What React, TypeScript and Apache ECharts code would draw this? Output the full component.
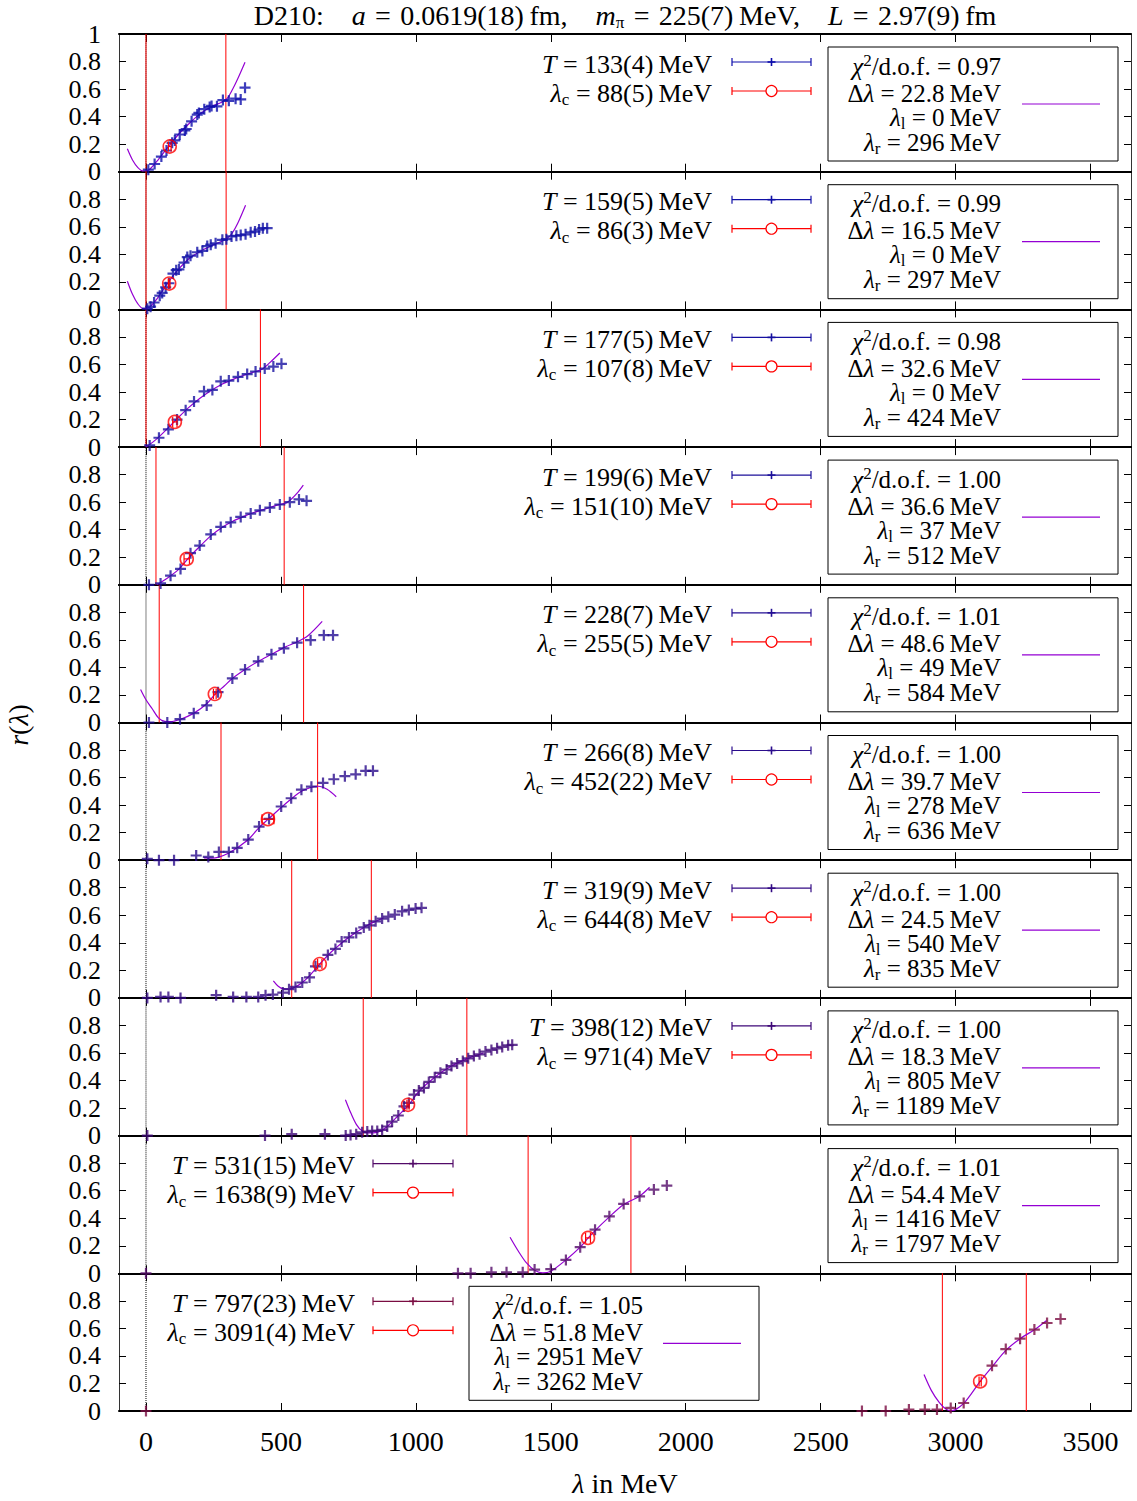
import React, { useEffect, useRef } from 'react';
import * as echarts from 'echarts';

// ---------- data ----------
const X_TICKS = [0, 500, 1000, 1500, 2000, 2500, 3000, 3500];
const Y_TICKS = [0, 0.2, 0.4, 0.6, 0.8, 1];

const TEMPS = ['133(4)', '159(5)', '177(5)', '199(6)', '228(7)', '266(8)', '319(9)', '398(12)', '531(15)', '797(23)'];
const LAMBDA_C_TEXT = ['88(5)', '86(3)', '107(8)', '151(10)', '255(5)', '452(22)', '644(8)', '971(4)', '1638(9)', '3091(4)'];
const LAMBDA_C = [88, 86, 107, 151, 255, 452, 644, 971, 1638, 3091];
const LAMBDA_C_ERR = [5, 3, 8, 10, 5, 22, 8, 4, 9, 4];
const LAMBDA_C_R = [0.183, 0.188, 0.183, 0.188, 0.207, 0.298, 0.246, 0.224, 0.257, 0.215];
const CHI2 = ['0.97', '0.99', '0.98', '1.00', '1.01', '1.00', '1.00', '1.00', '1.01', '1.05'];
const DELTA = ['22.8', '16.5', '32.6', '36.6', '48.6', '39.7', '24.5', '18.3', '54.4', '51.8'];
const LAMBDA_L = [0, 0, 0, 37, 49, 278, 540, 805, 1416, 2951];
const LAMBDA_R = [296, 297, 424, 512, 584, 636, 835, 1189, 1797, 3262];

const DATA_1 = [[8.6, 0.015], [32, 0.056], [57, 0.11], [76, 0.154], [97, 0.21], [107, 0.227], [125, 0.27], [144, 0.3], [149, 0.31], [169, 0.366], [190, 0.415], [196, 0.427], [216, 0.454], [236, 0.47], [243, 0.478], [263, 0.475], [285, 0.52], [307, 0.515], [332, 0.53], [351, 0.525], [367, 0.61]];
const DATA_2 = [[5, 0.005], [17, 0.02], [30, 0.05], [51, 0.1], [60, 0.12], [73, 0.16], [85, 0.19], [100, 0.26], [112, 0.285], [122, 0.29], [141, 0.34], [153, 0.38], [165, 0.39], [190, 0.415], [209, 0.425], [227, 0.46], [240, 0.47], [258, 0.48], [283, 0.505], [298, 0.51], [317, 0.53], [335, 0.535], [351, 0.54], [369, 0.545], [388, 0.56], [404, 0.565], [419, 0.58], [433, 0.59], [449, 0.59]];
const DATA_3 = [[13.6, 0.012], [48, 0.068], [83, 0.129], [115, 0.2], [147, 0.268], [178, 0.332], [215, 0.405], [246, 0.415], [277, 0.478], [307, 0.483], [341, 0.51], [375, 0.53], [406, 0.549], [440, 0.57], [472, 0.585], [502, 0.605]];
const DATA_4 = [[11, 0], [54, 0.01], [91, 0.066], [128, 0.115], [165, 0.23], [199, 0.285], [240, 0.366], [277, 0.42], [314, 0.454], [351, 0.493], [388, 0.517], [422, 0.541], [459, 0.561], [496, 0.583], [533, 0.6], [567, 0.62], [595, 0.61]];
const DATA_5 = [[11, 0], [79, 0], [126, 0.024], [177, 0.068], [225, 0.124], [267, 0.22], [320, 0.32], [367, 0.385], [416, 0.444], [465, 0.495], [511, 0.539], [560, 0.58], [610, 0.598], [659, 0.634], [693, 0.634]];
const DATA_6 = [[5, 0.01], [48, 0], [104, 0], [186, 0.034], [231, 0.024], [270, 0.06], [307, 0.06], [338, 0.09], [379, 0.15], [419, 0.244], [456, 0.3], [501, 0.39], [538, 0.45], [576, 0.512], [613, 0.534], [656, 0.561], [696, 0.588], [737, 0.61], [777, 0.624], [814, 0.649], [841, 0.649]];
const DATA_7 = [[5, 0], [54, 0.007], [83, 0.007], [128, 0], [260, 0.02], [323, 0.007], [372, 0.007], [416, 0.007], [443, 0.02], [470, 0.024], [507, 0.039], [530, 0.063], [554, 0.08], [579, 0.112], [606, 0.149], [628, 0.229], [674, 0.312], [702, 0.356], [725, 0.41], [752, 0.439], [779, 0.471], [807, 0.512], [828, 0.527], [851, 0.556], [875, 0.576], [898, 0.59], [922, 0.605], [949, 0.629], [974, 0.639], [999, 0.649], [1021, 0.654]];
const DATA_8 = [[5, 0], [441, 0], [540, 0.01], [663, 0.01], [740, 0], [758, 0.005], [779, 0.01], [801, 0.024], [820, 0.029], [838, 0.034], [857, 0.034], [875, 0.041], [894, 0.066], [912, 0.102], [935, 0.146], [956, 0.212], [974, 0.237], [993, 0.298], [1011, 0.327], [1030, 0.346], [1048, 0.39], [1070, 0.424], [1091, 0.456], [1114, 0.48], [1132, 0.505], [1153, 0.524], [1174, 0.541], [1194, 0.561], [1215, 0.578], [1236, 0.59], [1258, 0.61], [1280, 0.622], [1301, 0.634], [1320, 0.644], [1342, 0.656], [1357, 0.659]];
const DATA_9 = [[0, 0], [1156, 0], [1203, 0], [1280, 0.007], [1336, 0.007], [1396, 0.007], [1440, 0.027], [1500, 0.031], [1556, 0.097], [1609, 0.19], [1664, 0.317], [1717, 0.414], [1770, 0.504], [1829, 0.559], [1882, 0.608], [1930, 0.637]];
const DATA_10 = [[0, 0], [2653, 0], [2741, 0], [2827, 0.01], [2886, 0.01], [2931, 0.01], [2982, 0.022], [3030, 0.058], [3135, 0.329], [3186, 0.45], [3239, 0.525], [3292, 0.591], [3339, 0.639], [3389, 0.668]];

const FIT_1 = [[-69, 0.166], [-50, 0.085], [-30, 0.03], [-10, 0.005], [10, 0.012], [40, 0.075], [80, 0.175], [120, 0.27], [160, 0.35], [200, 0.42], [240, 0.47], [280, 0.505], [300, 0.53], [320, 0.595], [340, 0.675], [367, 0.795]];
const FIT_2 = [[-69, 0.205], [-50, 0.11], [-30, 0.04], [-10, 0.005], [10, 0.012], [40, 0.075], [80, 0.19], [120, 0.29], [160, 0.37], [200, 0.42], [240, 0.46], [280, 0.495], [300, 0.515], [320, 0.555], [340, 0.625], [369, 0.756]];
const FIT_3 = [[0, 0.0], [40, 0.06], [80, 0.135], [120, 0.215], [160, 0.29], [200, 0.355], [240, 0.41], [280, 0.455], [320, 0.49], [360, 0.52], [400, 0.545], [430, 0.565], [460, 0.615], [496, 0.683]];
const FIT_4 = [[40, 0.0], [80, 0.05], [120, 0.11], [160, 0.2], [200, 0.28], [240, 0.355], [280, 0.415], [320, 0.46], [360, 0.495], [400, 0.525], [440, 0.55], [480, 0.575], [520, 0.595], [540, 0.625], [560, 0.665], [583, 0.724]];
const FIT_5 = [[-20, 0.24], [0, 0.165], [23, 0.1], [48, 0.03], [70, 0.008], [90, 0.006], [128, 0.024], [178, 0.068], [227, 0.14], [258, 0.21], [290, 0.265], [320, 0.32], [367, 0.385], [416, 0.444], [465, 0.495], [517, 0.549], [560, 0.585], [600, 0.63], [653, 0.734]];
const FIT_6 = [[215, 0.017], [245, 0.014], [270, 0.022], [307, 0.052], [338, 0.09], [379, 0.15], [419, 0.237], [453, 0.298], [501, 0.383], [538, 0.444], [576, 0.5], [613, 0.53], [638, 0.537], [671, 0.515], [705, 0.461]];
const FIT_7 = [[472, 0.124], [490, 0.085], [510, 0.065], [530, 0.063], [554, 0.08], [579, 0.112], [606, 0.16], [644, 0.246], [674, 0.31], [702, 0.36], [752, 0.44], [807, 0.512], [851, 0.556], [880, 0.58]];
const FIT_8 = [[739, 0.261], [760, 0.16], [780, 0.08], [800, 0.035], [825, 0.02], [850, 0.022], [875, 0.04], [894, 0.066], [935, 0.146], [974, 0.224], [1011, 0.32], [1070, 0.424], [1132, 0.505], [1194, 0.561], [1250, 0.6]];
const FIT_9 = [[1349, 0.262], [1380, 0.16], [1410, 0.075], [1440, 0.022], [1470, 0.003], [1500, 0.015], [1556, 0.097], [1609, 0.19], [1638, 0.255], [1664, 0.31], [1717, 0.41], [1770, 0.5], [1829, 0.56], [1866, 0.625]];
const FIT_10 = [[2883, 0.265], [2910, 0.15], [2940, 0.06], [2965, 0.012], [2982, 0.002], [3000, 0.01], [3030, 0.055], [3060, 0.13], [3091, 0.215], [3135, 0.32], [3186, 0.44], [3239, 0.525], [3292, 0.59], [3336, 0.656]];

const DATA = [DATA_1, DATA_2, DATA_3, DATA_4, DATA_5, DATA_6, DATA_7, DATA_8, DATA_9, DATA_10];
const FITS = [FIT_1, FIT_2, FIT_3, FIT_4, FIT_5, FIT_6, FIT_7, FIT_8, FIT_9, FIT_10];

// ---------- style ----------
const POINT_COLORS = ['#0c0cab', '#1010a6', '#1610a0', '#1c109a', '#230e94', '#2a0c8c', '#330a84', '#3e0878', '#520a68', '#7a0c42'];
const FIT_COLOR = '#9400d3';
const RED = '#ff0000';
const FONT = "'Liberation Serif', 'Times New Roman', serif";
const W = 1137;
const H = 1501;
const N = 10;
const PANEL_TOP = 34;
const PANEL_H = 137.7;
const PLOT_LEFT = 119;
const PLOT_RIGHT = 1131;
const PLUS = 'path://M4,0L6,0L6,4L10,4L10,6L6,6L6,10L4,10L4,6L0,6L0,4L4,4Z';
const FS = 26;
const FS_BOX = 25;
const EQS = '\u2004=\u2004';

function rich(fs: number) {
  return {
    i: { fontStyle: 'italic', fontSize: fs, fontFamily: FONT, lineHeight: fs + 4, fill: '#000' },
    sub: { fontSize: 17, fontFamily: FONT, lineHeight: 17, verticalAlign: 'bottom', fill: '#000' },
    sup: { fontSize: 17, fontFamily: FONT, lineHeight: 17, verticalAlign: 'top', fill: '#000' },
  };
}

function txt(x: number, y: number, text: string, align: string, fs = FS) {
  return {
    type: 'text', x, y, z: 100,
    style: { text, fontFamily: FONT, fontSize: fs, lineHeight: fs + 4, fill: '#000', align, verticalAlign: 'middle', rich: rich(fs) },
  };
}
function ln(x1: number, y1: number, x2: number, y2: number, color: string, w = 1.2) {
  return { type: 'line', z: 100, shape: { x1, y1, x2, y2 }, style: { stroke: color, lineWidth: w } };
}

function buildGraphics() {
  const g: any[] = [];
  g.push(txt(625, 15, `D210:\u2003{i|a}${EQS}0.0619(18)\u2009fm,\u2003{i|m}{sub|π}${EQS}225(7)\u2009MeV,\u2003{i|L}${EQS}2.97(9)\u2009fm`, 'center', 28));
  g.push(txt(625, 1483, '{i|λ} in MeV', 'center', 28));
  g.push({ ...txt(18, 725, '{i|r}({i|λ})', 'center', 28), rotation: Math.PI / 2 });
  for (let i = 0; i < N; i++) {
    const top = PANEL_TOP + i * PANEL_H;
    const left = i >= 8;
    const tx = left ? 355 : 712;
    const s1 = left ? 373 : 732;
    const s2 = left ? 453 : 811;
    const sc = (s1 + s2) / 2;
    const c = POINT_COLORS[i];
    // T legend
    g.push(txt(tx, top + 30, `{i|T} = ${TEMPS[i]}\u2009MeV`, 'right'));
    const yT = top + 28;
    g.push(ln(s1, yT, s2, yT, c));
    g.push(ln(s1, yT - 4, s1, yT + 4, c));
    g.push(ln(s2, yT - 4, s2, yT + 4, c));
    g.push(ln(sc - 4, yT, sc + 4, yT, c, 1.6));
    g.push(ln(sc, yT - 4, sc, yT + 4, c, 1.6));
    // lambda_c legend
    g.push(txt(tx, top + 59, `{i|λ}{sub|c} = ${LAMBDA_C_TEXT[i]}\u2009MeV`, 'right'));
    const yC = top + 57;
    g.push(ln(s1, yC, s2, yC, RED));
    g.push(ln(s1, yC - 4, s1, yC + 4, RED));
    g.push(ln(s2, yC - 4, s2, yC + 4, RED));
    g.push({ type: 'circle', z: 101, shape: { cx: sc, cy: yC, r: 5.5 }, style: { stroke: RED, fill: '#fff', lineWidth: 1.2 } });
    // fit box
    const boxL = i === 9 ? 469 : 828;
    const boxR = i === 9 ? 759 : 1118;
    const bt = i === 9 ? 643 : 1001;
    const l1 = i === 9 ? 663 : 1022;
    const l2 = i === 9 ? 741 : 1100;
    g.push({ type: 'rect', z: 99, shape: { x: boxL, y: top + 13, width: boxR - boxL, height: 114 }, style: { stroke: '#000', fill: '#fff', lineWidth: 1 } });
    g.push(txt(bt, top + 32, `{i|χ}{sup|2}/d.o.f. = ${CHI2[i]}`, 'right', FS_BOX));
    g.push(txt(bt, top + 59, `Δ{i|λ} = ${DELTA[i]}\u2009MeV`, 'right', FS_BOX));
    g.push(txt(bt, top + 83, `{i|λ}{sub|l} = ${LAMBDA_L[i]}\u2009MeV`, 'right', FS_BOX));
    g.push(txt(bt, top + 108, `{i|λ}{sub|r} = ${LAMBDA_R[i]}\u2009MeV`, 'right', FS_BOX));
    g.push(ln(l1, top + 70, l2, top + 70, FIT_COLOR, 1.2));
  }
  return g;
}

function vline(xi: number, yi: number, x: number, color: string, type: string, z: number) {
  return {
    type: 'line', xAxisIndex: xi, yAxisIndex: yi, data: [[x, 0], [x, 1]],
    showSymbol: false, symbol: 'none', z, silent: true,
    lineStyle: { color, width: 1, type },
  };
}

function buildOption() {
  const grid: any[] = [];
  const xAxis: any[] = [];
  const yAxis: any[] = [];
  const series: any[] = [];
  for (let i = 0; i < N; i++) {
    const top = PANEL_TOP + i * PANEL_H;
    grid.push({ left: PLOT_LEFT, top, width: PLOT_RIGHT - PLOT_LEFT, height: PANEL_H });
    const xBase = {
      type: 'value', gridIndex: i, min: -100, max: 3650,
      splitLine: { show: false },
      axisLine: { show: true, onZero: false, lineStyle: { color: '#000', width: 2 } },
      axisTick: { show: true, inside: true, length: 8, customValues: X_TICKS, lineStyle: { color: '#000', width: 1 } },
    };
    xAxis.push({
      ...xBase, position: 'bottom',
      axisLabel: {
        show: i === N - 1, customValues: X_TICKS, margin: 16, color: '#000', fontSize: 28, fontFamily: FONT,
        hideOverlap: false,
        formatter: (v: number) => String(Math.round(v)),
      },
    });
    xAxis.push({ ...xBase, position: 'top', axisLabel: { show: false } });
    const yBase = {
      type: 'value', gridIndex: i, min: 0, max: 1, interval: 0.2,
      splitLine: { show: false },
      axisLine: { show: true, onZero: false, lineStyle: { color: '#333', width: 1 } },
      axisTick: { show: true, inside: true, length: 7, lineStyle: { color: '#000', width: 1 } },
    };
    yAxis.push({
      ...yBase, position: 'left',
      axisLabel: {
        show: true, margin: 18, color: '#000', fontSize: 26, fontFamily: FONT,
        hideOverlap: false, showMinLabel: true, showMaxLabel: true,
        customValues: i === 0 ? Y_TICKS : Y_TICKS.slice(0, 5),
        formatter: (v: number) => String(Math.round(v * 10) / 10),
      },
    });
    yAxis.push({ ...yBase, position: 'right', axisLabel: { show: false } });

    const xi = 2 * i;
    const yi = 2 * i;
    series.push(vline(xi, yi, 0, '#000', 'dotted', 1));
    series.push(vline(xi, yi, LAMBDA_L[i], RED, 'solid', 2));
    series.push(vline(xi, yi, LAMBDA_R[i], RED, 'solid', 2));
    series.push({
      type: 'line', xAxisIndex: xi, yAxisIndex: yi, data: FITS[i], smooth: 0.3,
      showSymbol: false, symbol: 'none', z: 3,
      lineStyle: { color: FIT_COLOR, width: 1.2 },
    });
    series.push({
      type: 'scatter', xAxisIndex: xi, yAxisIndex: yi, data: DATA[i], symbol: PLUS, symbolSize: 11, z: 4,
      itemStyle: { color: POINT_COLORS[i] },
    });
    series.push({
      type: 'custom', xAxisIndex: xi, yAxisIndex: yi, z: 5,
      data: [[LAMBDA_C[i], LAMBDA_C_R[i], LAMBDA_C_ERR[i]]],
      encode: { x: 0, y: 1 },
      renderItem: (params: any, api: any) => {
        const x = api.value(0);
        const y = api.value(1);
        const e = api.value(2);
        const l = api.coord([x - e, y]);
        const r = api.coord([x + e, y]);
        const st = { stroke: RED, lineWidth: 1.2 };
        return {
          type: 'group',
          children: [
            { type: 'line', shape: { x1: l[0], y1: l[1], x2: r[0], y2: r[1] }, style: st },
            { type: 'line', shape: { x1: l[0], y1: l[1] - 5, x2: l[0], y2: l[1] + 5 }, style: st },
            { type: 'line', shape: { x1: r[0], y1: r[1] - 5, x2: r[0], y2: r[1] + 5 }, style: st },
          ],
        };
      },
    });
    series.push({
      type: 'scatter', xAxisIndex: xi, yAxisIndex: yi, data: [[LAMBDA_C[i], LAMBDA_C_R[i]]],
      symbol: 'circle', symbolSize: 13, z: 6,
      itemStyle: { color: 'rgba(0,0,0,0)', borderColor: RED, borderWidth: 1.6 },
    });
  }
  return {
    animation: false,
    backgroundColor: '#fff',
    grid, xAxis, yAxis, series,
    graphic: buildGraphics(),
  };
}

export default function App() {
  const ref = useRef<HTMLDivElement>(null);
  useEffect(() => {
    document.body.style.margin = '0';
    if (!ref.current) return;
    const chart = echarts.init(ref.current, undefined, { renderer: 'svg', width: W, height: H });
    chart.setOption(buildOption() as any);
    return () => chart.dispose();
  }, []);
  return <div ref={ref} style={{ width: W, height: H }} />;
}
